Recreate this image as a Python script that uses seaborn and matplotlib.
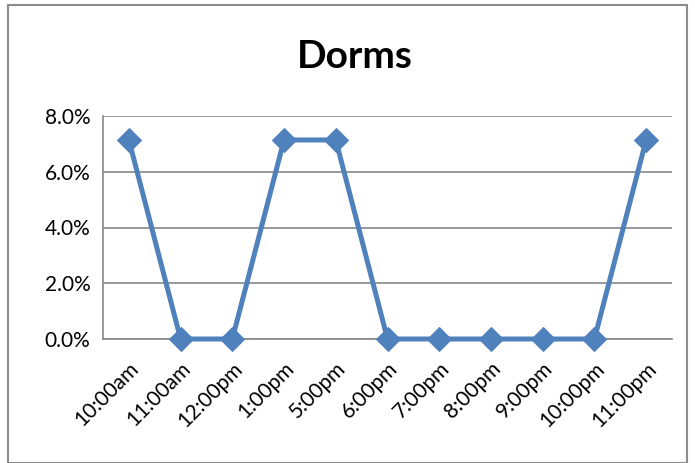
import matplotlib
matplotlib.use("Agg")
import matplotlib.pyplot as plt
import matplotlib.ticker as mticker
from matplotlib.patches import Rectangle
import seaborn as sns
import pandas as pd

times = ["10:00am", "11:00am", "12:00pm", "1:00pm", "5:00pm", "6:00pm",
         "7:00pm", "8:00pm", "9:00pm", "10:00pm", "11:00pm"]
share = [0.0714, 0.0, 0.0, 0.0714, 0.0714, 0.0, 0.0, 0.0, 0.0, 0.0, 0.0714]

df = pd.DataFrame({"time": times, "share": share})

sns.set_style("white")
plt.rcParams["font.family"] = ["Lato", "DejaVu Sans"]
plt.rcParams["text.color"] = "black"
plt.rcParams["xtick.color"] = "black"
plt.rcParams["ytick.color"] = "black"

fig = plt.figure(figsize=(6.95, 4.63), dpi=100)
ax = fig.add_axes([103 / 695, 1 - 339 / 463, 569 / 695, 223 / 463])

sns.lineplot(data=df, x="time", y="share", ax=ax, color="#4F81BD",
             linewidth=3.6, marker="D", markersize=12, markeredgecolor="#4F81BD",
             sort=False, clip_on=False, zorder=5)

grey = "#878787"
ax.set_xlim(-0.5, len(times) - 0.5)
ax.set_ylim(0, 0.08)
ax.yaxis.set_major_locator(mticker.MultipleLocator(0.02))
ax.yaxis.set_major_formatter(mticker.PercentFormatter(1.0, decimals=1))
ax.grid(axis="y", color=grey, linewidth=1.2)
ax.set_axisbelow(True)

ax.set_xticks(range(len(times)))
ax.set_xticklabels(times, rotation=45, ha="right", rotation_mode="anchor")
ax.set_xticks([i - 0.5 for i in range(len(times) + 1)], minor=True)
ax.tick_params(axis="x", which="major", length=0, labelsize=15, pad=14,
               labelcolor="black")
ax.tick_params(axis="x", which="minor", length=6, color=grey, width=1.2,
               direction="out")
ax.tick_params(axis="y", length=6, color=grey, width=1.2, labelsize=15,
               direction="out", pad=3, labelcolor="black")

for side in ["top", "right"]:
    ax.spines[side].set_visible(False)
for side in ["left", "bottom"]:
    ax.spines[side].set_color(grey)
    ax.spines[side].set_linewidth(1.2)

ax.set_xlabel("")
ax.set_ylabel("")

fig.text(355 / 695, 1 - 57 / 463, "Dorms", ha="center", va="center",
         fontsize=28, fontweight="bold", color="black")

fig.patches.append(Rectangle((8 / 695, 0), 679 / 695, 1 - 5 / 463,
                             transform=fig.transFigure, fill=False,
                             edgecolor="#8c8c8c", linewidth=1.5))

fig.savefig("out.png", dpi=100)
